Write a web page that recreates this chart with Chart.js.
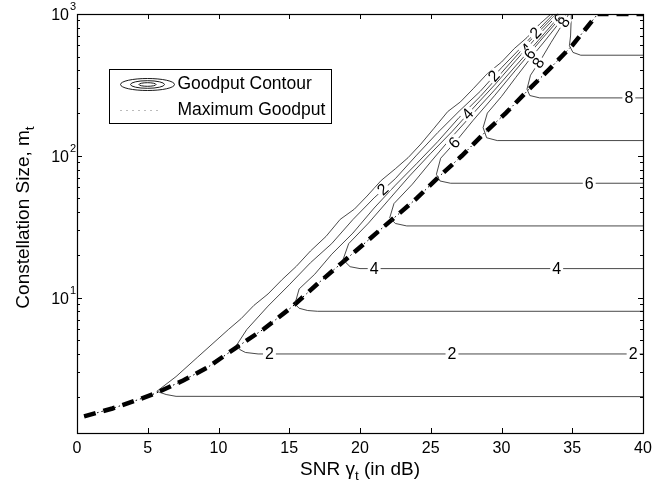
<!DOCTYPE html>
<html><head><meta charset="utf-8">
<script src="https://cdn.jsdelivr.net/npm/chart.js@4.4.0/dist/chart.umd.min.js"></script>
<style>html,body{margin:0;padding:0;background:#fff;overflow:hidden}</style>
</head><body>
<canvas id="c" width="671" height="487"></canvas>
<script>
// ---- data ----
const xTicks = [0, 5, 10, 15, 20, 25, 30, 35, 40];
const yDecades = [1, 2, 3];           // 10^1, 10^2, 10^3
const yRange = [1.108, 1000];
const maxGoodput = [[0.5,1.45],[2.5,1.65],[4.3,1.9],[5.6,2.12],[7.5,2.6],[9.2,3.2],[11.2,4.4],[13.2,6.0],[15.2,8.6],[17,12.5],[18.7,17.5],[20.5,25],[22.2,35],[24,50],[25.5,70],[27.2,100],[28.8,145],[30.3,200],[31.8,285],[33.4,410],[35,600],[36.8,1000],[40,1000]];
const level1 = [[40,2],[7.0,2.01],[6.3,2.07],[5.7,2.17],[5.64,2.18],[7,2.77],[8.5,3.78],[10.7,5.95],[11.6,7.1],[12.5,8.8],[13.5,10.6],[14.5,13.4],[15.5,16.6],[16.5,21.3],[17.6,27],[18.6,35.6],[19.6,42],[20.5,52],[21.5,67],[22.5,81],[23.4,97],[24.3,121],[25.2,155],[26.2,205],[27.1,240],[28,297],[29,380],[30,458],[30.9,570],[31.8,682],[32.7,850],[33.5,1000]];
const level2 = [[40,4],[12.8,4.0],[11.9,4.1],[11.5,4.3],[11.3,4.65],[12.0,5.95],[13.5,8.7],[15,12.3],[16.5,17.6],[18,24],[19.5,35.5],[21,50.5],[22.5,69],[24,101],[25.5,146],[27,206],[28.5,285],[30,418],[31.8,640],[33.68,1000]];
const level3 = [[40,8],[17,8.0],[16.3,8.1],[15.7,8.4],[15.4,9.0],[15.7,11.5],[16.8,14.6],[18,20.2],[19.5,28.5],[21,42.8],[22.5,62],[24,88],[25.5,126],[27,186],[28.5,262],[30,385],[31.9,630],[33.86,1000]];
const level4 = [[40,16],[20,16],[19.3,16.5],[18.8,18.5],[19.2,24],[20.6,33.5],[22,48.5],[23.5,72],[25,104],[26.5,148],[28,217],[29.5,315],[31,468],[32.5,690],[34.04,1000]];
const level5 = [[40,32],[23.3,32],[22.5,33.3],[22.1,36.5],[22.4,46],[23.7,63],[25,90.6],[26.5,136],[28,199],[29.5,290],[31,430],[32.6,650],[34.22,1000]];
const level6 = [[40,64],[26.4,64],[25.65,66.4],[25.4,74],[25.7,96],[26.8,127],[28,178],[29.5,265],[31,402],[32.7,640],[34.4,1000]];
const level7 = [[40,128],[29.7,128],[28.95,134],[28.7,158],[29.0,200],[30,262],[31,356],[32,480],[33,634],[34.58,1000]];
const level8 = [[40,256],[32.7,256],[32.0,266],[31.8,295],[32.05,370],[32.8,480],[33.5,629],[34.76,1000]];
const level9 = [[40,512],[35.6,512],[35.05,536],[34.8,597],[34.88,700],[34.94,1000]];
const contourLevels = [level1, level2, level3, level4, level5, level6, level7, level8, level9];
const labelText = ['2','2','2','4','4','6','8','2','6','4','2','4','2','6','8','6','8'];
const labelX    = [13.6,26.5,39.3,21.0,33.9,36.2,39.0,21.6,26.65,27.6,29.45,31.8,32.4,32.0,32.6,34.1,34.4];
const labelM    = [4,4,4,16,16,64,256,58,124,198,366,569,736,524,452,920,875];
const labelLevel= [2,2,2,4,4,6,8,2,6,4,2,4,2,6,8,6,8];
const legendLabels = ['Goodput Contour', 'Maximum Goodput'];
const xTitle = ['SNR \u03B3', 't', ' (in dB)'];
const yTitle = ['Constellation Size, m', 't'];

const FONT = '"Liberation Sans", Arial, Helvetica, sans-serif';
const toXY = arr => arr.map(p => ({x: p[0], y: p[1]}));

const datasets = contourLevels.map(lv => ({
  data: toXY(lv), showLine: true, borderColor: '#1a1a1a', borderWidth: 0.8,
  pointRadius: 0, fill: false, tension: 0
}));
datasets.push({data: toXY(maxGoodput), showLine: true, borderColor: '#000', borderWidth: 4.5,
  borderDash: [12, 8], pointRadius: 0, fill: false, tension: 0, borderCapStyle: 'butt'});
datasets.push({data: toXY(maxGoodput), showLine: true, borderColor: '#000', borderWidth: 1,
  borderDash: [1.5, 3], pointRadius: 0, fill: false, tension: 0});

function drawParts(ctx, parts, x, y, size, align) {
  const sub = size * 0.72;
  let w = 0;
  parts.forEach((t, i) => { ctx.font = (i % 2 ? sub : size) + 'px ' + FONT; w += ctx.measureText(t).width; });
  let cx = align === 'center' ? x - w / 2 : x;
  ctx.textAlign = 'left'; ctx.textBaseline = 'alphabetic';
  parts.forEach((t, i) => {
    const s = i % 2 ? sub : size;
    ctx.font = s + 'px ' + FONT;
    ctx.fillText(t, cx, y + (i % 2 ? size * 0.28 : 0));
    cx += ctx.measureText(t).width;
  });
}

const decor = {
  id: 'decor',
  afterDatasetsDraw(chart) {
    const ctx = chart.ctx, xs = chart.scales.x, ys = chart.scales.y;
    ctx.save();
    ctx.font = '16px ' + FONT;
    labelText.forEach((t, i) => {
      const px = xs.getPixelForValue(labelX[i]), py = ys.getPixelForValue(labelM[i]);
      const lv = contourLevels[labelLevel[i] - 1];
      let best = 1e9, ang = 0;
      for (let k = 0; k < lv.length - 1; k++) {
        const x1 = xs.getPixelForValue(lv[k][0]), y1 = ys.getPixelForValue(lv[k][1]);
        const x2 = xs.getPixelForValue(lv[k+1][0]), y2 = ys.getPixelForValue(lv[k+1][1]);
        const dx = x2 - x1, dy = y2 - y1, L2 = dx*dx + dy*dy || 1;
        let u = ((px - x1) * dx + (py - y1) * dy) / L2; u = Math.max(0, Math.min(1, u));
        const d = Math.hypot(x1 + u*dx - px, y1 + u*dy - py);
        if (d < best) { best = d; ang = Math.atan2(dy, dx); }
      }
      if (ang > Math.PI / 2) ang -= Math.PI; if (ang < -Math.PI / 2) ang += Math.PI;
      ctx.save();
      ctx.translate(px, py); ctx.rotate(ang);
      const w = ctx.measureText(t).width;
      ctx.fillStyle = '#fff';
      ctx.fillRect(-w/2 - 2, -6, w + 4, 12);
      ctx.fillStyle = '#000'; ctx.textAlign = 'center'; ctx.textBaseline = 'middle';
      ctx.fillText(t, 0, 1);
      ctx.restore();
    });
    ctx.restore();
  },
  afterDraw(chart) {
    const ctx = chart.ctx, xs = chart.scales.x, ys = chart.scales.y, a = chart.chartArea;
    ctx.save();
    ctx.strokeStyle = '#000'; ctx.lineWidth = 1.2;
    ctx.strokeRect(Math.round(a.left) + 0.5, Math.round(a.top) + 0.5, Math.round(a.right - a.left), Math.round(a.bottom - a.top));
    ctx.lineWidth = 1;
    ctx.beginPath();
    xTicks.forEach(v => {
      const px = Math.round(xs.getPixelForValue(v)) + 0.5;
      ctx.moveTo(px, a.bottom); ctx.lineTo(px, a.bottom - 5);
      ctx.moveTo(px, a.top); ctx.lineTo(px, a.top + 5);
    });
    for (let d = 0; d <= 3; d++) {
      for (let k = 1; k <= 9; k++) {
        const v = k * Math.pow(10, d);
        if (v < yRange[0] || v > yRange[1]) continue;
        const py = Math.round(ys.getPixelForValue(v)) + 0.5;
        const len = k === 1 ? 5 : 3;
        ctx.moveTo(a.left, py); ctx.lineTo(a.left + len, py);
        ctx.moveTo(a.right, py); ctx.lineTo(a.right - len, py);
      }
    }
    ctx.stroke();
    ctx.fillStyle = '#000';
    ctx.font = '16px ' + FONT; ctx.textAlign = 'center'; ctx.textBaseline = 'middle';
    xTicks.forEach(v => ctx.fillText(String(v), xs.getPixelForValue(v), a.bottom + 16));
    yDecades.forEach(e => {
      const py = ys.getPixelForValue(Math.pow(10, e));
      ctx.font = '16px ' + FONT; ctx.textAlign = 'right'; ctx.textBaseline = 'middle';
      ctx.fillText('10', a.left - 8, py + 2);
      ctx.font = '11px ' + FONT; ctx.textAlign = 'left';
      ctx.fillText(String(e), a.left - 7, py - 7);
    });
    drawParts(ctx, xTitle, (a.left + a.right) / 2, a.bottom + 42, 19, 'center');
    ctx.save();
    ctx.translate(29, (a.top + a.bottom) / 2 - 6); ctx.rotate(-Math.PI / 2);
    drawParts(ctx, yTitle, 0, 0, 19, 'center');
    ctx.restore();
    const L = 109.5, T = 69.5, W = 222, H = 54;
    ctx.fillStyle = '#fff'; ctx.fillRect(L, T, W, H);
    ctx.strokeStyle = '#000'; ctx.lineWidth = 1; ctx.strokeRect(L, T, W, H);
    const cy1 = T + 15, cy2 = T + 41, cx = L + 38;
    ctx.lineWidth = 0.9;
    [[27, 6], [17, 3.8], [8.5, 1.8]].forEach(r => {
      ctx.beginPath(); ctx.ellipse(cx, cy1, r[0], r[1], 0, 0, Math.PI * 2); ctx.stroke();
    });
    ctx.strokeStyle = '#777'; ctx.setLineDash([1, 5]); ctx.lineWidth = 1;
    ctx.beginPath(); ctx.moveTo(L + 11, cy2); ctx.lineTo(L + 53, cy2); ctx.stroke();
    ctx.setLineDash([]);
    ctx.fillStyle = '#000'; ctx.font = '17.5px ' + FONT; ctx.textAlign = 'left'; ctx.textBaseline = 'middle';
    ctx.fillText(legendLabels[0], L + 68, cy1);
    ctx.fillText(legendLabels[1], L + 68, cy2);
    ctx.restore();
  }
};

new Chart(document.getElementById('c'), {
  type: 'scatter',
  data: {datasets},
  options: {
    responsive: false, animation: false, devicePixelRatio: 1,
    layout: {padding: {top: 14, right: 28, left: 0, bottom: 0}},
    plugins: {legend: {display: false}, tooltip: {enabled: false}},
    scales: {
      x: {type: 'linear', min: 0, max: 40, grid: {display: false}, border: {display: false},
          ticks: {display: false}, afterFit: s => { s.height = 54; }},
      y: {type: 'logarithmic', min: yRange[0], max: yRange[1], grid: {display: false}, border: {display: false},
          ticks: {display: false}, afterFit: s => { s.width = 77; }}
    }
  },
  plugins: [decor]
});
</script>
</body></html>
